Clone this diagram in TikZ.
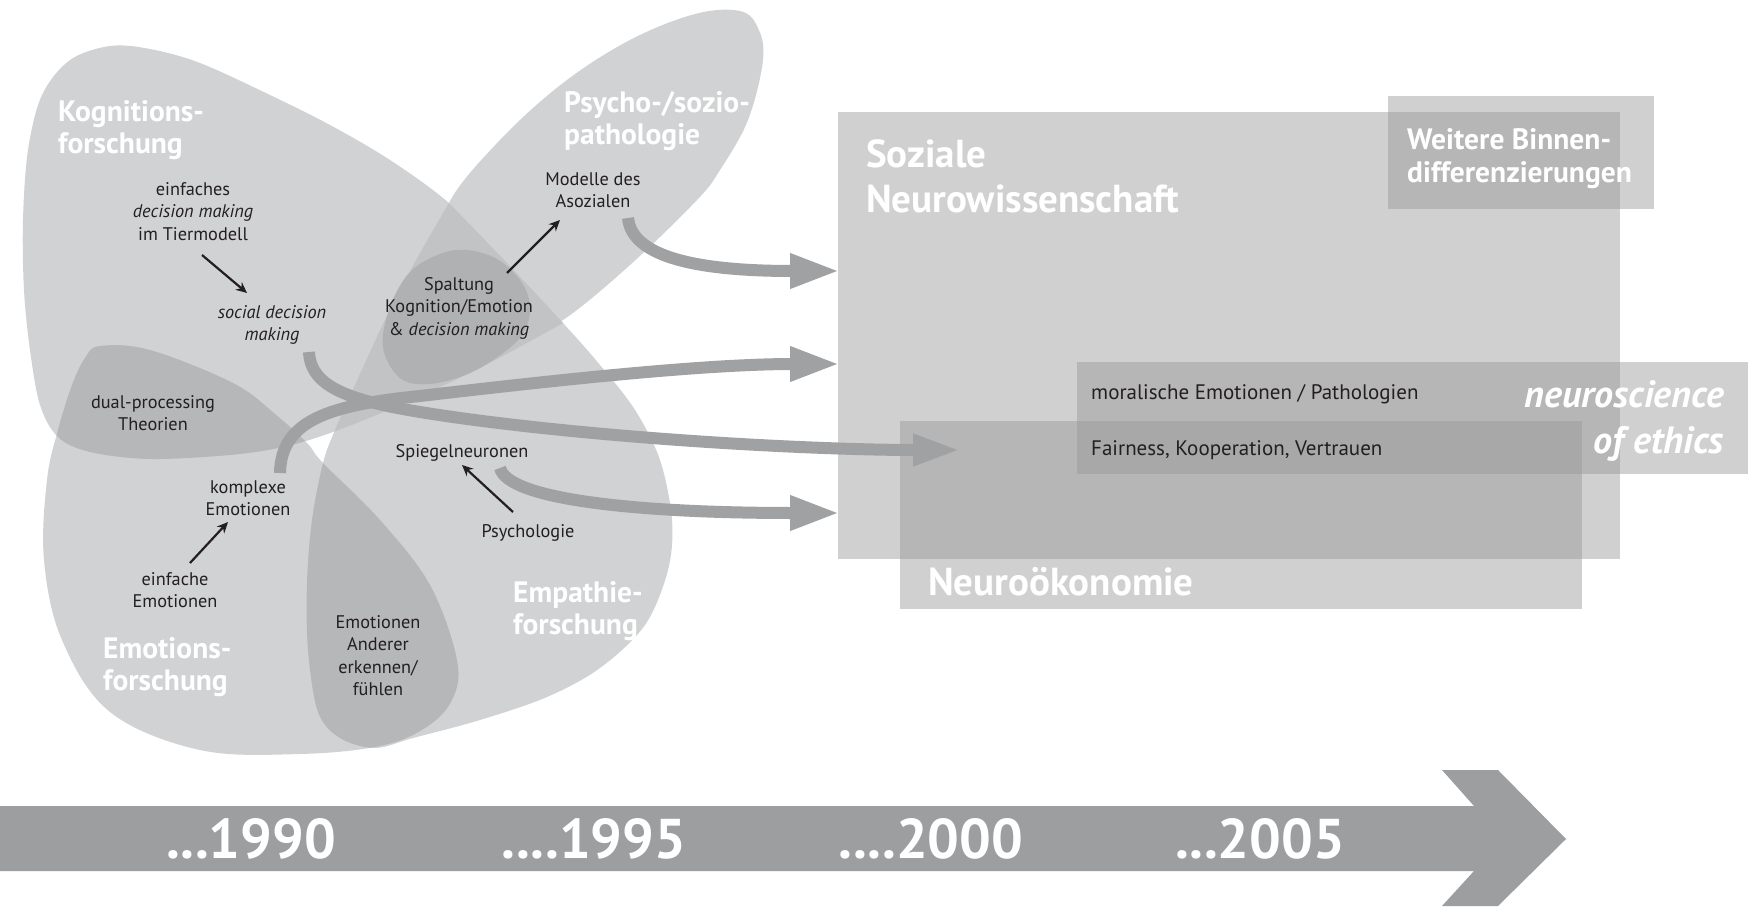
\documentclass[tikz,border=0pt]{standalone}
\usepackage{fontspec}
\setmainfont{PT Sans}
\usetikzlibrary{arrows.meta}
\definecolor{lightg}{RGB}{209,210,212}
\definecolor{medg}{RGB}{194,195,197}
\definecolor{darkg}{RGB}{182,183,185}
\definecolor{darkerg}{RGB}{176,177,179}
\definecolor{arrowg}{RGB}{160,161,163}
\definecolor{tlg}{RGB}{157,158,160}
\definecolor{txt}{RGB}{35,31,32}
\def\Kshape{plot[smooth,tension=0.55] coordinates {(563,323) (505,259) (449,203) (390,160) (330,125) (270,95) (200,63) (150,49) (110,46) (70,60) (42,95) (28,150) (23,220) (24,290) (30,350) (40,405) (58,437) (90,452) (150,459) (230,455) (283,447) (333,432) (400,405) (480,368) (563,323)} -- cycle}
\def\Eshape{plot[smooth cycle,tension=0.6] coordinates {(100,346) (150,350) (233,383) (275,414) (307,443) (323,463) (380,520) (430,585) (457,660) (452,700) (425,728) (380,746) (300,754) (200,750) (110,712) (62,640) (44,560) (47,480) (58,430) (72,385) (85,358)}}
\def\Pshape{plot[smooth,tension=0.55] coordinates {(449,203) (505,261) (563,323) (600,365) (635,410) (660,460) (672,520) (668,570) (645,625) (600,668) (547,697) (480,720) (413,738) (375,748) (340,738) (318,712) (308,650) (307,583) (312,520) (323,463) (335,430) (355,385) (385,320) (415,262) (449,203)} -- cycle}
\def\Sshape{plot[smooth cycle,tension=0.6] coordinates {(740,11) (758,28) (763,60) (748,120) (720,170) (697,200) (630,265) (563,320) (510,345) (470,340) (440,305) (440,260) (449,203) (500,140) (563,83) (630,40) (695,14)}}
\def\Spshape{plot[smooth cycle,tension=0.6] coordinates {(383,347) (390,307) (410,272) (440,254) (467,250) (497,259) (520,280) (530,305) (525,330) (507,350) (470,373) (430,384) (400,378)}}
\begin{document}
\begin{tikzpicture}[x=1pt,y=-1pt,
  body/.style={text=txt, font=\fontsize{18.3}{22.5}\selectfont, align=center, anchor=base, inner sep=0pt},
  head/.style={text=white, font=\bfseries\fontsize{29.5}{32.5}\selectfont, align=left, anchor=base west, inner sep=0pt},
  big/.style={text=white, font=\bfseries\fontsize{39}{44.5}\selectfont, align=left, anchor=base west, inner sep=0pt},
  rtext/.style={text=txt, font=\fontsize{21}{24}\selectfont, anchor=base west, inner sep=0pt},
  year/.style={text=white, font=\bfseries\fontsize{56}{60}\selectfont, anchor=base, inner sep=0pt},
  rectbox/.style={fill=black!40, fill opacity=0.46, anchor=north west, inner sep=0pt, draw=none},
  garrow/.style={draw=arrowg, line width=12pt, -{Triangle[length=50pt,width=32pt]}},
  barrow/.style={draw=txt, line width=2.2pt, -{Stealth[length=11pt,width=10pt]}}]
\useasboundingbox (0,0) rectangle (1759,907);
\fill[white] (0,0) rectangle (1759,907);
% Venn blobs
\fill[lightg] \Kshape;
\fill[lightg] \Eshape;
\fill[lightg] \Pshape;
\fill[lightg] \Sshape;
\begin{scope}\clip \Kshape; \fill[medg] \Pshape; \end{scope}
\begin{scope}\clip \Kshape; \fill[darkg] \Eshape; \end{scope}
\begin{scope}\clip \Eshape; \fill[darkg] \Pshape; \end{scope}
\fill[darkerg] \Spshape;
% rectangles
\node[rectbox, minimum width=782pt, minimum height=447pt] (sozrect) at (838,112) {};
\node[rectbox, minimum width=266pt, minimum height=113pt] (weitrect) at (1388,96) {};
\node[rectbox, minimum width=671pt, minimum height=112pt] (ethrect) at (1077,362) {};
\node[rectbox, minimum width=682pt, minimum height=188pt] (neurect) at (900,421) {};
% timeline
\fill[tlg] (0,806) -- (1474,806) -- (1442,770) -- (1498,770) -- (1566,839) -- (1498,906) -- (1442,906) -- (1474,871) -- (0,871) -- cycle;
% headings (anchor = baseline of last line)
\node[head] (kog) at (58,153.5) {Kognitions-\\forschung};
\node[head] (psy) at (564,144.5) {Psycho-/sozio-\\pathologie};
\node[head] (emp) at (513,634.5) {Empathie-\\forschung};
\node[head] (emo) at (103,690.5) {Emotions-\\forschung};
% body texts
\node[body] (einf) at (193,240) {einfaches\\\textit{decision making}\\im Tiermodell};
\node[body] (sdm) at (272,340.5) {\textit{social decision}\\\textit{making}};
\node[body] (dual) at (153,430.5) {dual-processing\\Theorien};
\node[body] (spalt) at (459,335) {Spaltung\\Kognition/Emotion\\\& \textit{decision making}};
\node[body] (modelle) at (593,207.5) {Modelle des\\Asozialen};
\node[body] (spiegel) at (462,457) {Spiegelneuronen};
\node[body] (psych) at (528,537) {Psychologie};
\node[body] (anderer) at (378,695.5) {Emotionen\\Anderer\\erkennen/\\fühlen};
\node[body] (komplex) at (248,515.5) {komplexe\\Emotionen};
\node[body] (einfe) at (175,607.5) {einfache\\Emotionen};
% right texts
\node[big] (soz) at (866,212) {Soziale\\Neurowissenschaft};
\node[head] (weit) at (1407,182) {Weitere Binnen-\\differenzierungen};
\node[rtext] (moral) at (1091,399) {moralische Emotionen / Pathologien};
\node[big, font=\bfseries\itshape\fontsize{38}{46}\selectfont, align=right, anchor=base east] (ethics) at (1724,453) {neuroscience\\of ethics};
\node[big, font=\bfseries\fontsize{39}{44}\selectfont] (neuro) at (928,595) {Neuroökonomie};
\node[rtext] (fair) at (1091,455) {Fairness, Kooperation, Vertrauen};
% years
\node[year] (y1) at (251,858) {...1990};
\node[year] (y2) at (594,858) {....1995};
\node[year] (y3) at (931,858) {....2000};
\node[year] (y4) at (1260,858) {...2005};
% connector coordinates
\coordinate (a1s) at (628,218);
\coordinate (a1e) at (840,271);
\coordinate (a2s) at (280,473);
\coordinate (a2e) at (840,364);
\coordinate (a3s) at (309,352);
\coordinate (a3e) at (961,450);
\coordinate (a4s) at (500,468);
\coordinate (a4e) at (840,513);
\draw[garrow] (a1s) .. controls (632,258) and (700,271) .. (a1e);
\draw[garrow] (a2s) .. controls (281,420) and (330,405) .. (420,396) .. controls (540,382) and (700,364) .. (a2e);
\draw[garrow, -{Triangle[length=48pt,width=29pt]}] (a3s) .. controls (311,392) and (360,404) .. (460,418) .. controls (620,440) and (820,450) .. (a3e);
\draw[garrow] (a4s) .. controls (508,500) and (640,513) .. (a4e);
% black arrows
\coordinate (b1s) at (202,255); \coordinate (b1e) at (247,293);
\coordinate (b2s) at (507,273); \coordinate (b2e) at (560,220);
\coordinate (b3s) at (513,512); \coordinate (b3e) at (462,465);
\coordinate (b4s) at (190,563); \coordinate (b4e) at (228,522);
\draw[barrow] (b1s) -- (b1e);
\draw[barrow] (b2s) -- (b2e);
\draw[barrow] (b3s) -- (b3e);
\draw[barrow] (b4s) -- (b4e);
\end{tikzpicture}
\end{document}
